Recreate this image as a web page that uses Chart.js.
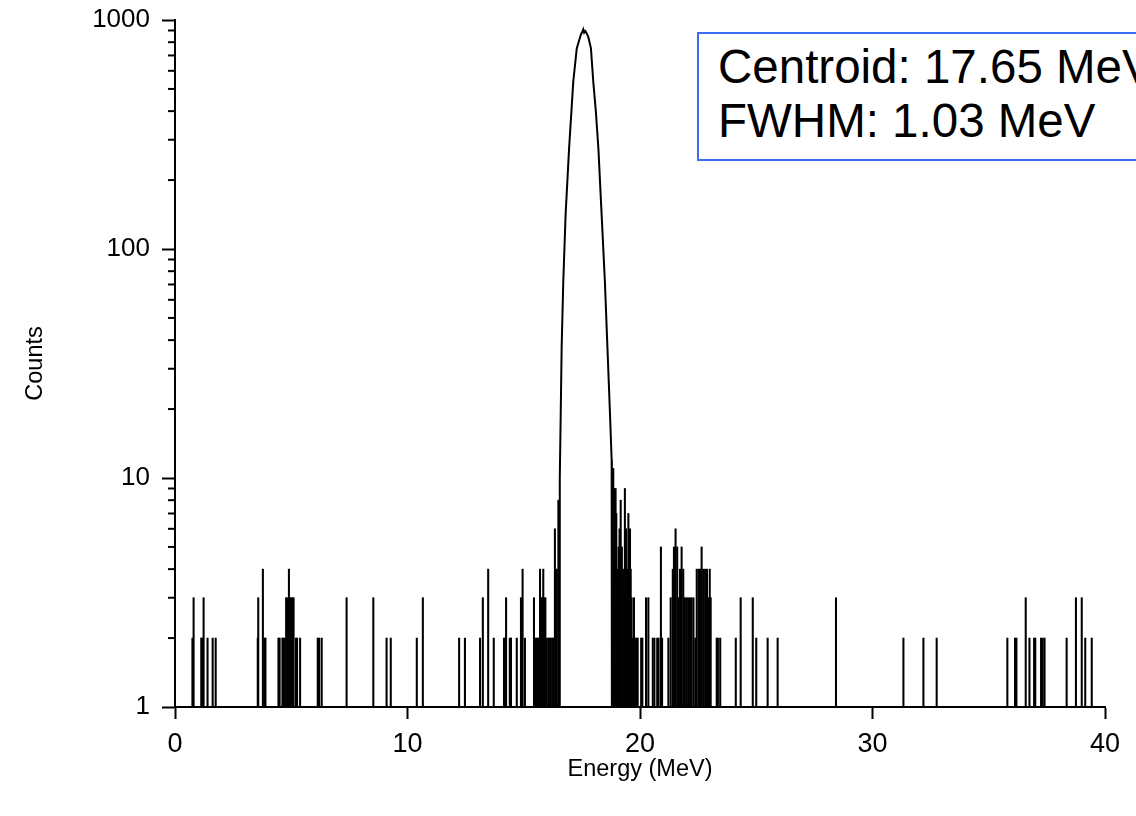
<!DOCTYPE html>
<html>
<head>
<meta charset="utf-8">
<script src="https://cdn.jsdelivr.net/npm/chart.js@4"></script>
<style>
  body { margin: 0; overflow: hidden; background: #fff; }
  #wrap { position: relative; width: 1136px; height: 816px; }
  #note {
    position: absolute; left: 697px; top: 32px; width: 520px; height: 129px;
    border: 2px solid #3b6ef5; background: #fff;
    font-family: "Liberation Sans", Arial, sans-serif; font-size: 47.5px; line-height: 54px;
    padding: 5.5px 0 0 19px; box-sizing: border-box; white-space: nowrap; color: #000;
  }
</style>
</head>
<body>
<div id="wrap">
  <canvas id="spectrum" width="1136" height="816"></canvas>
  <div id="note">Centroid: 17.65 MeV<br>FWHM: 1.03 MeV</div>
</div>
<script>
// main peak outline (energy in MeV, counts)
const peakEnergy = [16.52, 16.55, 16.59, 16.63, 16.70, 16.80, 16.95, 17.13, 17.28, 17.45, 17.52, 17.56, 17.60, 17.65, 17.72, 17.78, 17.89, 17.99, 18.10, 18.21, 18.35, 18.49, 18.60, 18.71, 18.78, 18.79];
const peakCounts = [1, 10, 19, 37, 72, 141, 275, 538, 752, 860, 890, 910, 880, 895, 870, 840, 752, 538, 400, 275, 141, 72, 37, 19, 12, 1];

// scattered background bins
const spikeEnergy = [
  0.75, 0.80, 1.13, 1.16, 1.23, 1.40, 1.62, 1.75,
  3.56, 3.58, 3.78, 3.85, 3.89,
  4.45, 4.50, 4.62, 4.66, 4.72, 4.78, 4.82, 4.90, 4.95, 5.00, 5.05, 5.10, 5.20, 5.25, 5.38,
  6.14, 6.20, 6.31,
  7.38, 8.53, 9.10, 9.28, 10.40, 10.66, 12.22, 12.47,
  13.12, 13.24, 13.47, 13.71, 14.15, 14.20, 14.24, 14.40, 14.45, 14.70, 14.88, 14.95, 15.05,
  15.44, 15.50, 15.55, 15.60, 15.66, 15.70, 15.75, 15.80, 15.84, 15.88, 15.93, 15.97,
  16.05, 16.10, 16.15, 16.22, 16.26, 16.34, 16.38, 16.42, 16.49,
  18.80, 18.85, 18.90, 18.95, 18.98, 19.02, 19.08, 19.12, 19.17, 19.22, 19.28, 19.35, 19.40, 19.45, 19.50, 19.57, 19.60, 19.64, 19.70, 19.74, 19.78, 19.84, 19.90,
  20.05, 20.10, 20.26, 20.36, 20.55, 20.62, 20.74, 20.80, 20.90, 20.95,
  21.22, 21.32, 21.41, 21.46, 21.53, 21.60, 21.66, 21.72, 21.79, 21.86, 21.93,
  22.00, 22.07, 22.15, 22.22, 22.30, 22.38, 22.44, 22.52, 22.58, 22.65, 22.72, 22.80, 22.88, 22.95, 23.00, 23.04,
  23.30, 23.35, 23.45, 24.12, 24.33, 24.85, 25.00, 25.49, 25.92,
  28.43, 31.33, 32.19, 32.76,
  35.80, 36.13, 36.19, 36.59, 36.75, 36.95, 37.00, 37.25, 37.32, 37.40,
  38.35, 38.75, 39.00, 39.15, 39.43
];
const spikeCounts = [
  2, 3, 2, 2, 3, 2, 2, 2,
  2, 3, 4, 2, 2,
  2, 2, 2, 2, 2, 3, 3, 4, 3, 3, 3, 3, 2, 2, 2,
  2, 2, 2,
  3, 3, 2, 2, 2, 3, 2, 2,
  2, 3, 4, 2, 2, 2, 3, 2, 2, 2, 3, 4, 2,
  3, 2, 2, 2, 2, 4, 3, 3, 4, 3, 3, 2,
  2, 2, 2, 2, 2, 6, 4, 4, 8,
  11, 11, 9, 9, 7, 4, 5, 6, 8, 5, 4, 9, 6, 4, 7, 6, 4, 3, 2, 3, 2, 2, 2,
  2, 2, 3, 3, 2, 2, 2, 2, 5, 2,
  2, 3, 4, 5, 6, 5, 3, 4, 5, 4, 3,
  3, 3, 3, 3, 3, 2, 4, 4, 4, 5, 4, 4, 4, 3, 4, 3,
  2, 2, 2, 2, 3, 3, 2, 2, 2,
  3, 2, 2, 2,
  2, 2, 2, 3, 2, 2, 2, 2, 2, 2,
  2, 3, 3, 2, 2
];

const xTicks = [0, 10, 20, 30, 40];
const yTicks = [1, 2, 3, 4, 5, 6, 7, 8, 9, 10, 20, 30, 40, 50, 60, 70, 80, 90, 100, 200, 300, 400, 500, 600, 700, 800, 900, 1000];
const yLabels = [1, 10, 100, 1000];

const font = "'Liberation Sans', Arial, sans-serif";
const isMajor = v => yLabels.includes(v);

// short minor ticks on the log axis
const minorTicks = {
  id: 'minorTicks',
  afterDraw(chart) {
    const y = chart.scales.y, ctx = chart.ctx;
    ctx.save();
    ctx.strokeStyle = '#000';
    ctx.lineWidth = 2;
    yTicks.filter(v => !isMajor(v)).forEach(v => {
      const py = y.getPixelForValue(v);
      ctx.beginPath();
      ctx.moveTo(y.right - 7, py);
      ctx.lineTo(y.right, py);
      ctx.stroke();
    });
    ctx.restore();
  }
};

new Chart(document.getElementById('spectrum'), {
  type: 'line',
  data: {
    datasets: [
      {
        label: 'Peak',
        data: peakEnergy.map((e, i) => ({ x: e, y: peakCounts[i] })),
        borderColor: '#000',
        borderWidth: 2,
        pointRadius: 0,
        tension: 0,
        fill: false
      },
      {
        type: 'bar',
        label: 'Background',
        data: spikeEnergy.map((e, i) => ({ x: e, y: spikeCounts[i] })),
        backgroundColor: '#000',
        borderWidth: 0,
        barThickness: 1.4,
        base: 1
      }
    ]
  },
  options: {
    responsive: false,
    animation: false,
    layout: { padding: { top: 20, right: 31, bottom: 0, left: 0 } },
    plugins: { legend: { display: false }, tooltip: { enabled: false } },
    scales: {
      x: {
        type: 'linear',
        min: 0, max: 40,
        offset: false,
        afterFit: s => { s.height = 109; s.paddingLeft = 0; s.paddingRight = 0; },
        afterBuildTicks: s => { s.ticks = xTicks.map(v => ({ value: v })); },
        grid: { offset: false, drawOnChartArea: false, tickLength: 12, tickWidth: 2, tickColor: '#000' },
        border: { color: '#000', width: 2 },
        ticks: { color: '#000', padding: 9, font: { family: font, size: 27 } },
        title: {
          display: true, text: 'Energy (MeV)', color: '#000',
          font: { family: font, size: 23.5 }, padding: { top: 0, bottom: 32 }
        }
      },
      y: {
        type: 'logarithmic',
        min: 1, max: 1000,
        afterFit: s => { s.width = 175; s.paddingTop = 0; s.paddingBottom = 0; },
        afterBuildTicks: s => { s.ticks = yTicks.map(v => ({ value: v })); },
        grid: {
          offset: false, drawOnChartArea: false, tickLength: 13, tickWidth: 2,
          tickColor: c => isMajor(c.tick.value) ? '#000' : 'rgba(0,0,0,0)'
        },
        border: { color: '#000', width: 2 },
        ticks: {
          autoSkip: false, color: '#000', padding: 12,
          font: { family: font, size: 26 },
          callback: v => isMajor(v) ? String(v) : ''
        },
        title: {
          display: true, text: 'Counts', color: '#000',
          font: { family: font, size: 23.5 }, padding: { top: 21, bottom: 0 }
        }
      }
    }
  },
  plugins: [minorTicks]
});
</script>
</body>
</html>
